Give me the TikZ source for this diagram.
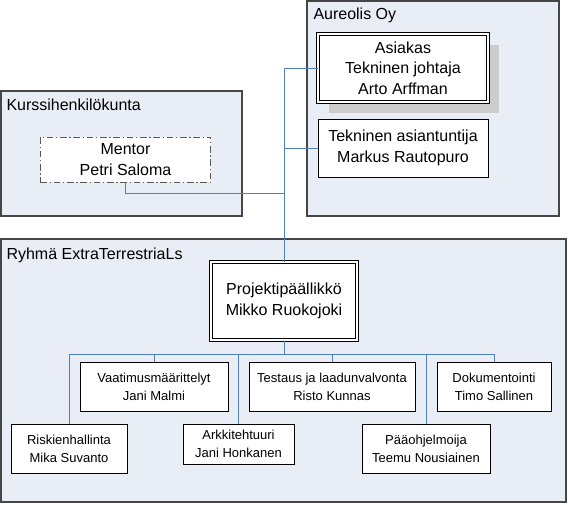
\documentclass[tikz,border=0pt]{standalone}
\usepackage{fontspec}
\setmainfont{Liberation Sans}
\usetikzlibrary{shadows}

\definecolor{groupfill}{RGB}{233,237,246}
\definecolor{groupline}{RGB}{70,70,70}
\definecolor{linkblue}{RGB}{79,129,189}

\tikzset{every picture/.style={line width=0.75pt}}
\tikzset{
  group/.style={draw=groupline, fill=groupfill, line width=1.5pt},
  grouplabel/.style={anchor=west, inner sep=0.75pt, font=\fontsize{12}{15}\selectfont},
  role/.style={draw, fill=white, align=center, inner sep=0pt, font=\fontsize{12}{15.4}\selectfont},
  chief/.style={role, double, double distance=1.25pt},
  task/.style={draw, fill=white, align=center, inner sep=0pt, font=\fontsize{9.75}{13.35}\selectfont},
  link/.style={draw=linkblue, line width=0.75pt},
}

\begin{document}
\begin{tikzpicture}[x=0.75pt,y=0.75pt,yscale=-1,xscale=1]
\useasboundingbox (0,0) rectangle (568,504);

%Shape: Rectangle [Aureolis Oy]
\draw [group] (307,1) rectangle (559,216) ;
%Shape: Rectangle [Kurssihenkilokunta]
\draw [group] (1,91) rectangle (242,216) ;
%Shape: Rectangle [Ryhma]
\draw [group] (1,239) rectangle (566,502) ;

% Text Node
\node [grouplabel] (lblaureolis) at (312,15) {Aureolis Oy};
% Text Node
\node [grouplabel] (lblkurssi) at (5,105) {Kurssihenkilökunta};
% Text Node
\node [grouplabel] (lblryhma) at (5,255) {Ryhmä ExtraTerrestriaLs};

% Aureolis Oy
\node [chief, minimum width=127.5pt, minimum height=51pt,
  drop shadow={shadow xshift=8.25pt, shadow yshift=-8.25pt, fill=black!20, opacity=1}]
  (asiakas) at (403,68) {Asiakas\\Tekninen johtaja\\Arto Arffman};
\node [role, minimum width=127.5pt, minimum height=43.5pt] (asiantuntija) at (403,148) {Tekninen asiantuntija\\Markus Rautopuro};

% Kurssihenkilokunta
\node [role, draw=black!65, dash pattern=on 5pt off 2pt on 1pt off 2pt, minimum width=128pt, minimum height=33.75pt]
  (mentor) at (125.5,159.5) {Mentor\\Petri Saloma};

% Ryhma ExtraTerrestriaLs
\node [chief, minimum width=109.5pt, minimum height=58.5pt] (pp) at (284,301) {Projektipäällikkö\\Mikko Ruokojoki};

\node [task, minimum width=111pt, minimum height=36.75pt] (vaatimus) at (154,386.5) {Vaatimusmäärittelyt\\Jani Malmi};
\node [task, minimum width=124.5pt, minimum height=36.75pt] (testaus) at (332,386.5) {Testaus ja laadunvalvonta\\Risto Kunnas};
\node [task, minimum width=85.5pt, minimum height=36.75pt] (dokumentointi) at (494,386.5) {Dokumentointi\\Timo Sallinen};
\node [task, minimum width=87pt, minimum height=36.75pt] (riski) at (69,448.5) {Riskienhallinta\\Mika Suvanto};
\node [task, minimum width=83.25pt, minimum height=30pt] (arkkitehtuuri) at (238.5,444) {Arkkitehtuuri\\Jani Honkanen};
\node [task, minimum width=96pt, minimum height=36.75pt] (paaohjelmoija) at (426,448.5) {Pääohjelmoija\\Teemu Nousiainen};

% Connectors
\coordinate (mjoin) at (284,193);
\coordinate (bus) at (284,354);
\draw [link] (pp.north) |- (asiakas.west) ;
\draw [link] (pp.north) |- (asiantuntija.west) ;
\draw [link] (mentor.south) |- (mjoin) ;
\draw [link] (pp.south) -- (bus) ;
\foreach \n in {riski,vaatimus,arkkitehtuuri,testaus,paaohjelmoija,dokumentointi}
  \draw [link] (bus) -| (\n.north) ;

\end{tikzpicture}
\end{document}
